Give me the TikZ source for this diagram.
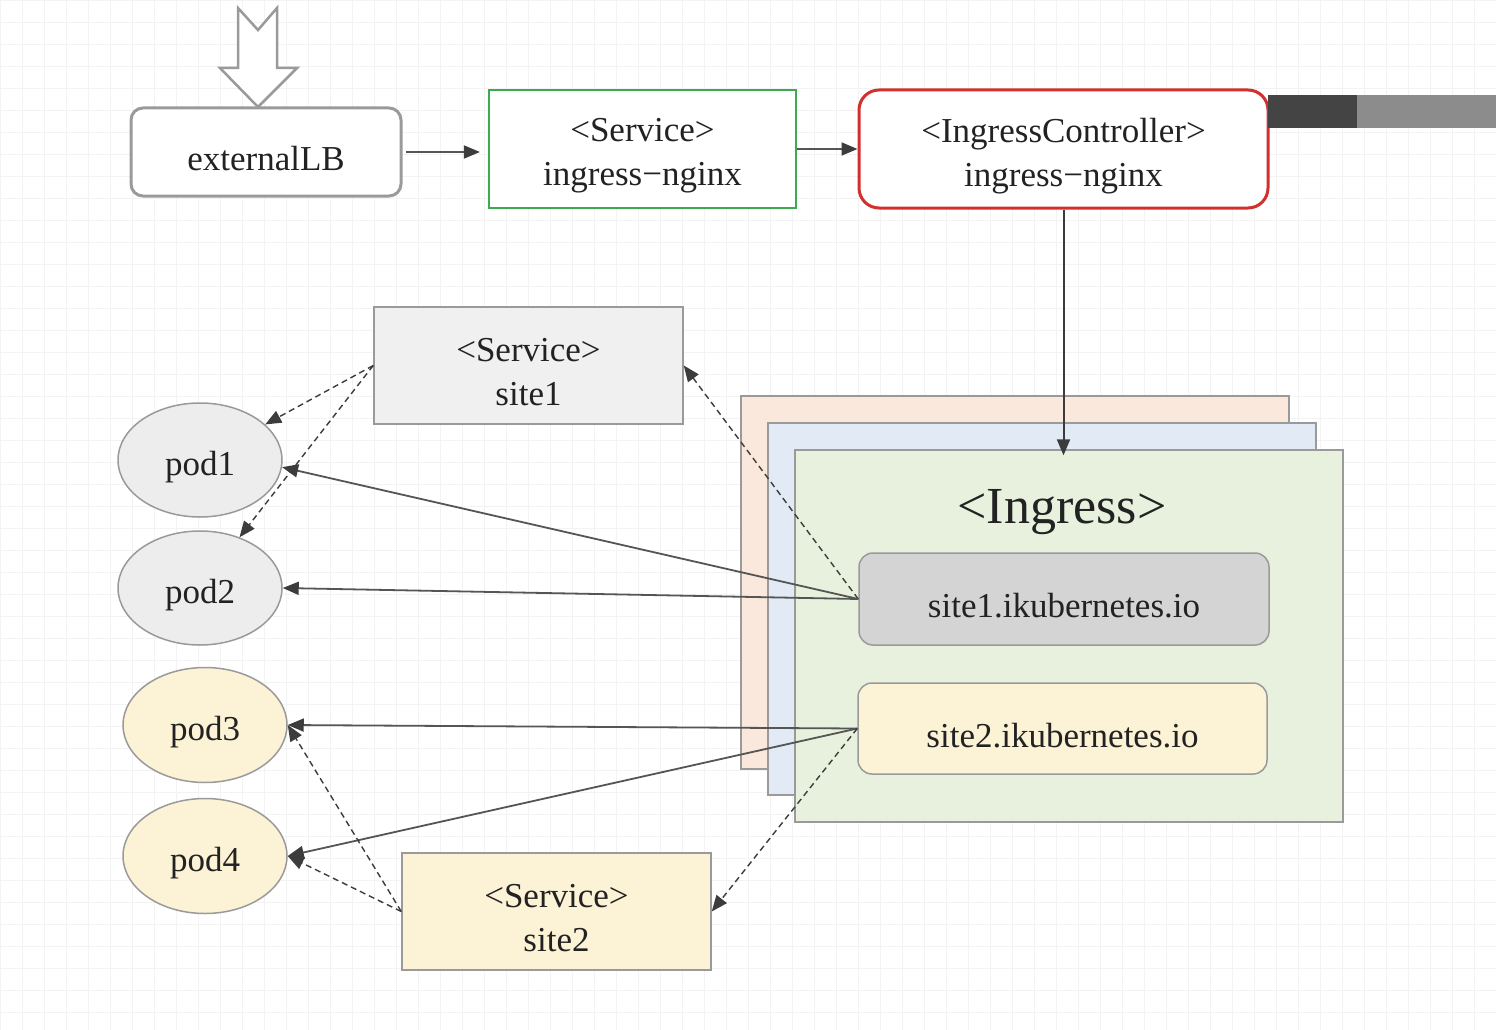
\documentclass[tikz,border=0pt]{standalone}
\usepackage{fontspec}
\setmainfont{Liberation Serif}
\usetikzlibrary{arrows.meta,shapes.geometric}
\definecolor{bordergray}{HTML}{9A9A9A}
\definecolor{arrowgray}{HTML}{3C3C3C}
\definecolor{linegray}{HTML}{555555}
\definecolor{okgreen}{HTML}{3DAA4F}
\definecolor{alertred}{HTML}{D32F2F}
\definecolor{peach}{HTML}{F9E8DB}
\definecolor{paleblue}{HTML}{E2EAF5}
\definecolor{palegreen}{HTML}{E8F1DE}
\definecolor{midgray}{HTML}{D4D4D4}
\definecolor{paleyellow}{HTML}{FCF2D6}
\definecolor{lightgray}{HTML}{F0F0F0}
\definecolor{podgray}{HTML}{EDEDED}
\definecolor{gridc}{HTML}{F3F3F3}
\definecolor{textc}{HTML}{222222}
\definecolor{bardark}{HTML}{444444}
\definecolor{barlight}{HTML}{8C8C8C}
\begin{document}
\begin{tikzpicture}[x=1pt,y=-1pt,
  every node/.style={text=textc, align=center, inner sep=0pt},
  txt/.style={font=\fontsize{35}{44}\selectfont},
  boxtext/.style={label={[txt,yshift=-7pt]center:{#1}}},
  lbbox/.style={draw=bordergray, line width=3pt, rounded corners=12pt, fill=white},
  svcgreen/.style={draw=okgreen, line width=2.2pt, fill=white},
  ctrlbox/.style={draw=alertred, line width=3pt, rounded corners=20pt, fill=white},
  layer/.style={draw=bordergray, line width=1.3pt},
  hostbox/.style={draw=bordergray, line width=1.5pt, rounded corners=14pt, minimum width=410pt, minimum height=92pt},
  svcbox/.style={draw=bordergray, line width=1.5pt, minimum width=309pt, minimum height=117pt},
  podnode/.style={ellipse, draw=bordergray, line width=1.5pt, minimum width=164pt, minimum height=114pt},
  solidarrow/.style={draw=linegray, line width=1.8pt, -{Triangle[length=16pt,width=13pt,color=arrowgray]}},
  dasharrow/.style={draw=arrowgray, line width=1.4pt, dash pattern=on 6pt off 4pt, -{Triangle[length=16pt,width=13pt]}}
]
\useasboundingbox (0,0) rectangle (1496,1030);
\fill[white] (0,0) rectangle (1496,1030);
\draw[gridc, line width=0.6pt, step=22pt] (0,0) grid (1496,1030);

% hollow entry arrow
\draw[bordergray, line width=2.5pt, fill=white, line join=miter]
  (238,8) -- (258,30) -- (277,8) -- (277,68) -- (297,68) -- (258,107) -- (220,68) -- (238,68) -- cycle;

% top row
\node[lbbox, minimum width=270pt, minimum height=88pt, boxtext={externalLB}] (elb) at (266,152) {};
\node[svcgreen, minimum width=307pt, minimum height=118pt, boxtext={<Service>\\ingress−nginx}] (nsvc) at (642.5,149) {};
\node[ctrlbox, minimum width=409pt, minimum height=118pt, boxtext={<IngressController>\\ingress−nginx}] (ic) at (1063.5,149) {};

% dark bar (window chrome)
\fill[bardark] (1268,95) rectangle (1357,128);
\fill[barlight] (1357,95) rectangle (1496,128);

\draw[solidarrow, shorten <=3pt, shorten >=8pt] (elb.east) -- (elb.east -| nsvc.west);
\draw[solidarrow] (nsvc.east) -- (ic.west);

% ingress stack
\node[layer, fill=peach, minimum width=548pt, minimum height=373pt] (ingback) at (1015,582.5) {};
\node[layer, fill=paleblue, minimum width=548pt, minimum height=372pt] (ingmid) at (1042,609) {};
\node[layer, fill=palegreen, minimum width=548pt, minimum height=372pt] (ingfront) at (1069,636) {};
\node[font=\fontsize{52}{56}\selectfont] (inglabel) at (1062,512) {<Ingress>};

\coordinate (ingtop) at ([yshift=-6pt]ingfront.north -| ic.south);
\draw[solidarrow, draw=arrowgray, line width=2pt] (ic.south) -- (ingtop);

\node[hostbox, fill=midgray, boxtext={site1.ikubernetes.io}] (site1) at (1064,599) {};
\node[hostbox, fill=paleyellow, minimum width=409pt, minimum height=91pt, boxtext={site2.ikubernetes.io}] (site2) at (1062.5,728.5) {};

% services
\node[svcbox, fill=lightgray, boxtext={<Service>\\site1}] (s1svc) at (528.5,365.5) {};
\node[svcbox, fill=paleyellow, boxtext={<Service>\\site2}] (s2svc) at (556.5,911.5) {};

% pods
\node[podnode, fill=podgray, boxtext={pod1}] (pod1) at (200,460) {};
\node[podnode, fill=podgray, boxtext={pod2}] (pod2) at (200,588) {};
\node[podnode, fill=paleyellow, minimum height=115pt, boxtext={pod3}] (pod3) at (205,725) {};
\node[podnode, fill=paleyellow, minimum height=115pt, boxtext={pod4}] (pod4) at (205,856) {};

% connectors
\draw[dasharrow] (s1svc.west) -- (pod1);
\draw[dasharrow] (s1svc.west) -- (pod2);
\draw[dasharrow] (site1.west) -- (s1svc.east);
\draw[solidarrow] (site1.west) -- (pod1.-5);
\draw[solidarrow] (site1.west) -- (pod2.east);
\draw[solidarrow] (site2.west) -- (pod3.east);
\draw[solidarrow] (site2.west) -- (pod4.east);
\draw[dasharrow] (site2.west) -- (s2svc.east);
\draw[dasharrow] (s2svc.west) -- (pod3.east);
\draw[dasharrow] (s2svc.west) -- (pod4.east);
\end{tikzpicture}
\end{document}
